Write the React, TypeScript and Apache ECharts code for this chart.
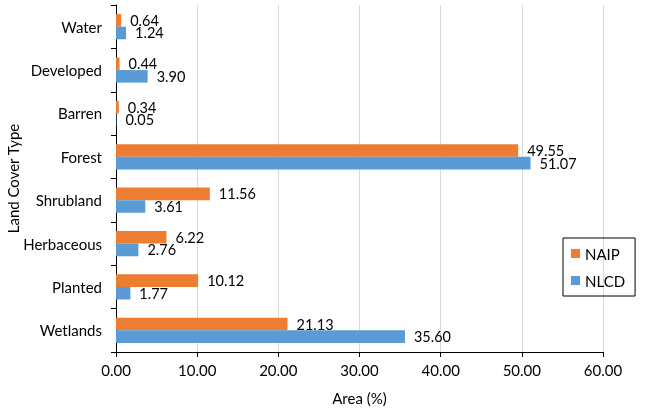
import React, { useEffect, useRef } from "react";
import * as echarts from "echarts";

const categories = ["Water", "Developed", "Barren", "Forest", "Shrubland", "Herbaceous", "Planted", "Wetlands"];
const naipValues = [0.64, 0.44, 0.34, 49.55, 11.56, 6.22, 10.12, 21.13];
const nlcdValues = [1.24, 3.9, 0.05, 51.07, 3.61, 2.76, 1.77, 35.6];
const seriesNames = ["NAIP", "NLCD"];
const colors = ["#ED7D31", "#5B9BD5"];

const FONT = "Lato, 'Open Sans', sans-serif";

export default function App() {
  const ref = useRef<HTMLDivElement>(null);
  useEffect(() => {
    if (!ref.current) return;
    const chart = echarts.init(ref.current, undefined, { renderer: "svg" });
    const label = {
      show: true,
      position: "right",
      distance: 9,
      color: "#000",
      fontFamily: FONT,
      fontSize: 14.5,
      formatter: (p: any) => Number(p.value).toFixed(2),
    };
    chart.setOption({
      animation: false,
      textStyle: { fontFamily: FONT },
      grid: { left: 116, right: 57, top: 5, bottom: 56, containLabel: false, outerBoundsMode: "none" },
      legend: {
        orient: "vertical",
        left: 563,
        top: 238,
        itemWidth: 9,
        itemHeight: 9,
        itemGap: 12,
        padding: [8, 10, 8, 8],
        borderColor: "#000",
        borderWidth: 1,
        icon: "rect",
        textStyle: { fontFamily: FONT, fontSize: 15, color: "#000" },
        data: seriesNames,
      },
      xAxis: {
        type: "value",
        min: 0,
        max: 60,
        interval: 10,
        name: "Area (%)",
        nameLocation: "middle",
        nameGap: 38,
        nameTextStyle: { fontFamily: FONT, fontSize: 15, color: "#000" },
        axisLine: { show: true, lineStyle: { color: "#000" } },
        axisTick: { show: true, length: 5, inside: false, lineStyle: { color: "#000" } },
        axisLabel: {
          fontFamily: FONT,
          fontSize: 15,
          color: "#000",
          margin: 10,
          formatter: (v: number) => v.toFixed(2),
        },
        splitLine: { show: true, lineStyle: { color: "#D9D9D9" } },
      },
      yAxis: {
        type: "category",
        inverse: true,
        data: categories,
        name: "Land Cover Type",
        nameLocation: "middle",
        nameGap: 96,
        nameMoveOverlap: false,
        nameRotate: 90,
        nameTextStyle: { fontFamily: FONT, fontSize: 15, color: "#000" },
        axisLine: { show: true, lineStyle: { color: "#000" } },
        axisTick: { show: true, length: 5, lineStyle: { color: "#000" } },
        axisLabel: { fontFamily: FONT, fontSize: 15, color: "#000", margin: 14 },
        splitLine: { show: false },
      },
      series: [
        {
          name: seriesNames[0],
          type: "bar",
          data: naipValues,
          itemStyle: { color: colors[0] },
          barGap: "0%",
          barCategoryGap: "42%",
          label,
        },
        {
          name: seriesNames[1],
          type: "bar",
          data: nlcdValues,
          itemStyle: { color: colors[1] },
          barGap: "0%",
          barCategoryGap: "42%",
          label,
        },
      ],
    });
    return () => chart.dispose();
  }, []);
  return <div ref={ref} style={{ width: 660, height: 408, position: "fixed", left: 0, top: 0 }} />;
}
